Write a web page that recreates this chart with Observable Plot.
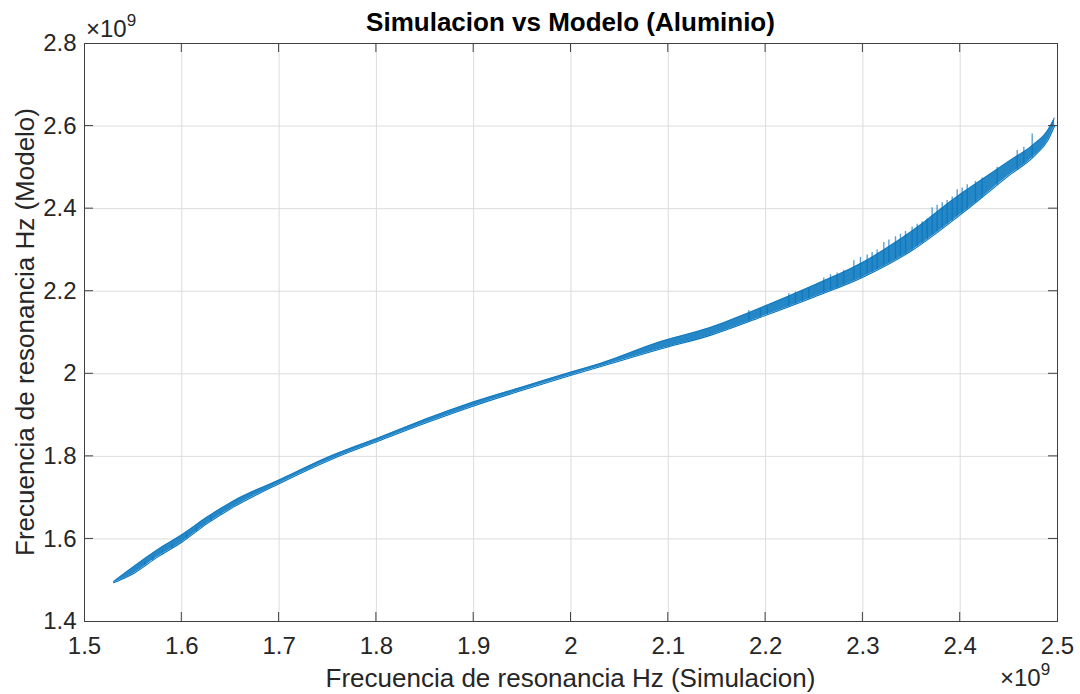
<!DOCTYPE html>
<html><head><meta charset="utf-8">
<script src="https://cdn.jsdelivr.net/npm/d3@7"></script>
<script src="https://cdn.jsdelivr.net/npm/@observablehq/plot@0.6"></script>
<style>body{margin:0;background:#fff;}</style>
</head><body><div id="chart"></div>
<script>
// Frecuencia simulada (x 1e9 Hz) and the band of the model frequency (x 1e9 Hz)
const simX      = [1.530, 1.551, 1.575, 1.600, 1.626, 1.653, 1.701, 1.756, 1.801, 1.850, 1.900, 1.950, 2.001, 2.030, 2.092, 2.143, 2.195, 2.250, 2.300, 2.350, 2.400, 2.425, 2.450, 2.475, 2.490, 2.497];
const modelLow  = [1.494, 1.517, 1.556, 1.592, 1.637, 1.677, 1.735, 1.795, 1.836, 1.880, 1.922, 1.960, 1.997, 2.017, 2.060, 2.093, 2.137, 2.186, 2.234, 2.298, 2.385, 2.432, 2.480, 2.525, 2.565, 2.600];
const modelHigh = [1.497, 1.534, 1.574, 1.610, 1.653, 1.692, 1.744, 1.804, 1.844, 1.890, 1.932, 1.968, 2.005, 2.025, 2.078, 2.112, 2.160, 2.215, 2.270, 2.345, 2.435, 2.475, 2.515, 2.555, 2.590, 2.620];
// spike tips
const spikeX   = [1.5620, 1.5700, 1.5800, 1.5900, 1.6050, 1.6150, 1.6300, 1.6400, 2.1828, 2.1948, 2.2017, 2.2239, 2.2307, 2.2376, 2.2444, 2.2598, 2.2667, 2.2736, 2.2804, 2.2907, 2.2975, 2.3044, 2.3095, 2.3147, 2.3215, 2.3267, 2.3335, 2.3386, 2.3438, 2.3506, 2.3558, 2.3609, 2.3661, 2.3712, 2.3763, 2.3815, 2.3866, 2.3918, 2.3969, 2.4020, 2.4072, 2.4157, 2.4226, 2.4380, 2.4586, 2.4654, 2.4740];
const spikeTop = [1.545, 1.556, 1.572, 1.586, 1.612, 1.628, 1.655, 1.665, 2.153, 2.157, 2.161, 2.194, 2.198, 2.202, 2.206, 2.232, 2.240, 2.244, 2.250, 2.274, 2.282, 2.288, 2.294, 2.300, 2.318, 2.324, 2.332, 2.338, 2.345, 2.355, 2.362, 2.368, 2.375, 2.402, 2.408, 2.414, 2.420, 2.428, 2.446, 2.450, 2.458, 2.466, 2.474, 2.500, 2.541, 2.549, 2.581];
const xTicks = [1.5, 1.6, 1.7, 1.8, 1.9, 2.0, 2.1, 2.2, 2.3, 2.4, 2.5];
const yTicks = [1.4, 1.6, 1.8, 2.0, 2.2, 2.4, 2.6, 2.8];
const titleText = "Simulacion vs Modelo (Aluminio)";
const xLabelText = "Frecuencia de resonancia Hz (Simulacion)";
const yLabelText = "Frecuencia de resonancia Hz (Modelo)";

const G = 1e9;
const band = simX.map((x, i) => ({x: x * G, lo: modelLow[i] * G, hi: modelHigh[i] * G}));
const lowAt = d3.scaleLinear(simX, modelLow);
const spikes = spikeX.map((x, i) => ({x: x * G, base: lowAt(x) * G, top: spikeTop[i] * G}));
const fmt = d => String(+(d / G).toFixed(1));
const blue = "#0072BD";
const font = "'Liberation Sans', Arial, Helvetica, sans-serif";
const crv = "monotone-x";

const W = 1080, H = 694, mL = 84, mR = 23, mT = 43, mB = 73;
const chart = Plot.plot({
  width: W, height: H, marginLeft: mL, marginRight: mR, marginTop: mT, marginBottom: mB,
  style: {fontFamily: font, fontSize: "24px", color: "#262626", background: "#fff", overflow: "visible"},
  x: {domain: [1.5 * G, 2.5 * G]},
  y: {domain: [1.4 * G, 2.8 * G]},
  marks: [
    Plot.gridX(xTicks.map(t => t * G), {stroke: "#dcdcdc", strokeOpacity: 1}),
    Plot.gridY(yTicks.map(t => t * G), {stroke: "#dcdcdc", strokeOpacity: 1}),
    Plot.ruleX(spikes, {x: "x", y1: "base", y2: "top", stroke: blue, strokeWidth: 1.4, strokeOpacity: 0.65}),
    Plot.areaY(band, {x: "x", y1: "lo", y2: "hi", fill: blue, fillOpacity: 0.85, curve: crv}),
    Plot.line(band, {x: "x", y: "lo", stroke: blue, strokeWidth: 1.1, curve: crv}),
    Plot.line(band, {x: "x", y: "hi", stroke: blue, strokeWidth: 0.8, strokeOpacity: 0.7, curve: crv}),
    Plot.axisX(xTicks.map(t => t * G), {tickSize: 0, tickPadding: 15, tickFormat: fmt, label: null, fill: "#262626"}),
    Plot.axisY(yTicks.map(t => t * G), {tickSize: 0, tickPadding: 8, tickFormat: fmt, label: null, fill: "#262626"}),
    Plot.frame({stroke: "#404040", strokeWidth: 1})
  ]
});
document.getElementById("chart").appendChild(chart);

const svg = d3.select(chart);
const sx = chart.scale("x"), sy = chart.scale("y");
const tk = 9, tickColor = "#404040";
const g = svg.append("g").attr("stroke", tickColor).attr("stroke-width", 1);
xTicks.slice(1, -1).forEach(t => {
  const px = sx.apply(t * G);
  g.append("line").attr("x1", px).attr("x2", px).attr("y1", H - mB).attr("y2", H - mB - tk);
  g.append("line").attr("x1", px).attr("x2", px).attr("y1", mT).attr("y2", mT + tk);
});
yTicks.slice(1, -1).forEach(t => {
  const py = sy.apply(t * G);
  g.append("line").attr("y1", py).attr("y2", py).attr("x1", mL).attr("x2", mL + tk);
  g.append("line").attr("y1", py).attr("y2", py).attr("x1", W - mR).attr("x2", W - mR - tk);
});

const cx = (mL + W - mR) / 2, cy = (mT + H - mB) / 2;
function txt(x, y, size, s, opts = {}) {
  const t = svg.append("text").attr("x", x).attr("y", y)
    .style("font-family", font).style("font-size", size + "px")
    .style("text-anchor", opts.anchor || "middle").style("fill", opts.fill || "#262626");
  if (opts.bold) t.style("font-weight", "bold");
  if (opts.transform) t.attr("transform", opts.transform);
  if (s != null) t.text(s);
  return t;
}
txt(cx, 31, 26, titleText, {bold: true, fill: "#000"});
txt(cx, 687, 26, xLabelText);
txt(0, 0, 26, yLabelText, {transform: `translate(34,${cy}) rotate(-90)`});

function expo(x, y) {
  const t = txt(x, y, 24, null, {anchor: "start"});
  t.append("tspan").text("\u00d710");
  t.append("tspan").style("font-size", "17px").attr("dy", -11).text("9");
}
expo(86, 37);
expo(1000, 686);
</script>
</body></html>
